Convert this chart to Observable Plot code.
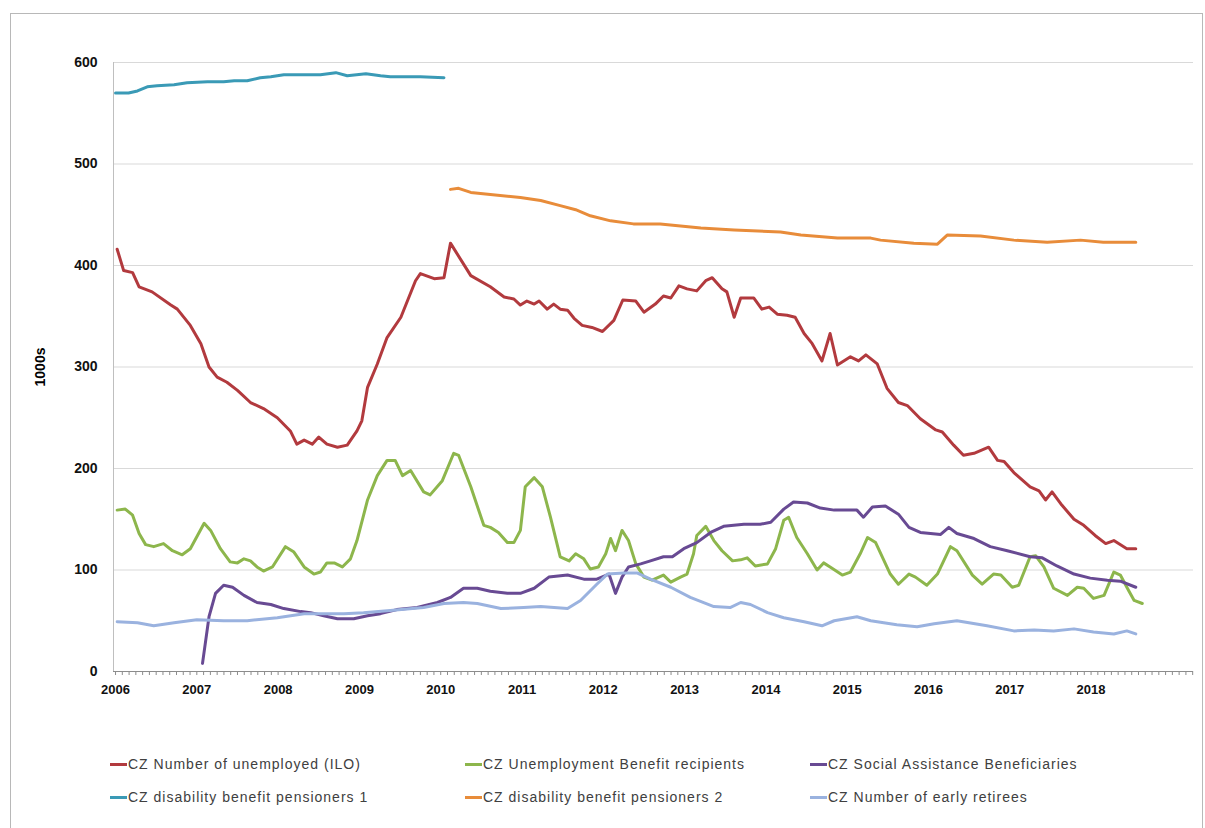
<!DOCTYPE html>
<html>
<head>
<meta charset="utf-8">
<script src="https://cdn.jsdelivr.net/npm/d3@7"></script>
<script src="https://cdn.jsdelivr.net/npm/@observablehq/plot@0.6"></script>
<style>
  html, body { margin: 0; padding: 0; background: #fff; }
  #wrap { position: relative; width: 1205px; height: 828px; overflow: hidden; }
  #frame { position: absolute; left: 10px; top: 13px; width: 1193px; height: 830px; border: 1px solid #b8b8b8; box-sizing: border-box; }
  #chart { position: absolute; left: 0; top: 0; }
  #ylabel { position: absolute; left: 40px; top: 367px; transform: translate(-50%, -50%) rotate(-90deg); font: bold 14px "Liberation Sans", Arial, sans-serif; color: #000; white-space: nowrap; }
  .leg { position: absolute; font: 14px "Liberation Sans", Arial, sans-serif; letter-spacing: 1px; color: #404040; white-space: nowrap; display: flex; align-items: center; }
  .leg span.sw { display: inline-block; width: 17px; height: 3px; margin-right: 1px; }
</style>
</head>
<body>
<div id="wrap">
  <div id="frame"></div>
  <div id="chart"></div>
  <div id="ylabel">1000s</div>
  <div id="legend"></div>
</div>
<script>
// ---- Data (x = decimal year, value in thousands) ----
const seriesNames = [
  "CZ Number of unemployed (ILO)",
  "CZ Unemployment Benefit recipients",
  "CZ Social Assistance Beneficiaries",
  "CZ disability benefit pensioners 1",
  "CZ disability benefit pensioners 2",
  "CZ Number of early retirees"
];
const seriesColors = ["#b23a3e", "#8db64c", "#684a93", "#3a9ab6", "#e88c3a", "#9ab2df"];

const unemployedILO = [
  [2006.02,416],[2006.10,395],[2006.21,393],[2006.29,379],[2006.45,374],[2006.68,361],[2006.76,357],[2006.92,341],
  [2007.05,323],[2007.15,300],[2007.25,290],[2007.37,285],[2007.50,277],[2007.66,265],[2007.82,259],[2007.99,250],
  [2008.15,237],[2008.23,224],[2008.32,228],[2008.42,224],[2008.50,231],[2008.60,224],[2008.73,221],[2008.85,223],
  [2008.97,237],[2009.03,247],[2009.10,280],[2009.22,303],[2009.34,329],[2009.51,349],[2009.69,385],[2009.75,392],
  [2009.92,387],[2010.04,388],[2010.12,422],[2010.37,390],[2010.61,379],[2010.78,369],[2010.90,367],[2010.98,361],
  [2011.06,365],[2011.15,362],[2011.21,365],[2011.31,357],[2011.39,362],[2011.47,357],[2011.56,356],[2011.64,348],
  [2011.74,341],[2011.86,339],[2011.99,335],[2012.13,346],[2012.24,366],[2012.40,365],[2012.50,354],[2012.64,362],
  [2012.74,370],[2012.83,368],[2012.93,380],[2013.03,377],[2013.15,375],[2013.26,385],[2013.34,388],[2013.46,377],
  [2013.52,374],[2013.61,349],[2013.69,368],[2013.85,368],[2013.95,357],[2014.04,359],[2014.14,352],[2014.26,351],
  [2014.36,349],[2014.47,333],[2014.57,323],[2014.69,306],[2014.79,333],[2014.88,302],[2015.04,310],[2015.14,306],
  [2015.23,312],[2015.37,303],[2015.49,279],[2015.63,265],[2015.74,262],[2015.90,249],[2016.09,238],[2016.17,236],
  [2016.31,223],[2016.43,213],[2016.56,215],[2016.74,221],[2016.85,208],[2016.93,207],[2017.05,196],[2017.25,182],
  [2017.36,178],[2017.44,169],[2017.52,177],[2017.64,164],[2017.79,150],[2017.91,144],[2018.05,134],[2018.18,126],
  [2018.28,129],[2018.44,121],[2018.55,121]
];

const benefitRecipients = [
  [2006.02,159],[2006.12,160],[2006.21,154],[2006.29,136],[2006.37,125],[2006.47,123],[2006.59,126],[2006.70,119],
  [2006.82,115],[2006.92,121],[2007.09,146],[2007.17,139],[2007.29,121],[2007.41,108],[2007.50,107],[2007.58,111],
  [2007.66,109],[2007.74,103],[2007.82,99],[2007.93,103],[2008.09,123],[2008.19,118],[2008.32,103],[2008.44,96],
  [2008.52,98],[2008.60,107],[2008.69,107],[2008.79,103],[2008.89,111],[2008.97,129],[2009.10,169],[2009.22,193],
  [2009.34,208],[2009.44,208],[2009.53,193],[2009.63,198],[2009.79,177],[2009.87,174],[2010.02,188],[2010.16,215],
  [2010.22,213],[2010.37,182],[2010.53,144],[2010.61,142],[2010.71,137],[2010.82,127],[2010.90,127],[2010.98,139],
  [2011.04,182],[2011.15,191],[2011.25,182],[2011.35,152],[2011.47,113],[2011.58,109],[2011.66,116],[2011.76,111],
  [2011.84,101],[2011.94,103],[2012.03,116],[2012.09,131],[2012.15,119],[2012.23,139],[2012.31,129],[2012.40,106],
  [2012.50,93],[2012.60,90],[2012.74,95],[2012.83,88],[2012.95,93],[2013.03,96],[2013.11,116],[2013.15,134],
  [2013.26,143],[2013.36,129],[2013.46,119],[2013.59,109],[2013.69,110],[2013.77,112],[2013.87,104],[2014.02,106],
  [2014.12,121],[2014.22,149],[2014.28,152],[2014.38,132],[2014.51,116],[2014.63,100],[2014.71,107],[2014.79,103],
  [2014.94,95],[2015.04,98],[2015.16,116],[2015.25,132],[2015.35,127],[2015.53,96],[2015.63,86],[2015.76,96],
  [2015.84,93],[2015.98,85],[2016.11,96],[2016.27,123],[2016.35,119],[2016.54,95],[2016.66,86],[2016.80,96],
  [2016.89,95],[2017.03,83],[2017.11,85],[2017.25,113],[2017.32,114],[2017.42,103],[2017.54,82],[2017.71,75],
  [2017.83,83],[2017.91,82],[2018.03,72],[2018.16,75],[2018.28,98],[2018.36,95],[2018.46,80],[2018.53,70],
  [2018.63,67]
];

const socialAssistance = [
  [2007.07,8],[2007.15,54],[2007.23,77],[2007.33,85],[2007.44,83],[2007.58,75],[2007.74,68],[2007.91,66],
  [2008.07,62],[2008.28,59],[2008.40,58],[2008.56,55],[2008.73,52],[2008.93,52],[2009.10,55],[2009.26,57],
  [2009.46,61],[2009.71,63],[2009.96,68],[2010.12,73],[2010.28,82],[2010.45,82],[2010.61,79],[2010.82,77],
  [2010.98,77],[2011.15,82],[2011.33,93],[2011.56,95],[2011.76,91],[2011.92,91],[2012.07,96],[2012.15,77],
  [2012.23,93],[2012.31,103],[2012.46,106],[2012.58,109],[2012.74,113],[2012.85,113],[2012.99,121],[2013.15,127],
  [2013.32,137],[2013.48,143],[2013.73,145],[2013.93,145],[2014.06,147],[2014.22,160],[2014.34,167],[2014.51,166],
  [2014.67,161],[2014.84,159],[2015.12,159],[2015.20,152],[2015.31,162],[2015.47,163],[2015.63,155],[2015.76,142],
  [2015.90,137],[2016.15,135],[2016.25,142],[2016.35,136],[2016.56,131],[2016.76,123],[2016.97,119],[2017.25,113],
  [2017.40,112],[2017.58,104],[2017.79,96],[2017.99,92],[2018.20,90],[2018.36,89],[2018.55,83]
];

const disability1 = [
  [2006.00,570],[2006.16,570],[2006.27,572],[2006.39,576],[2006.51,577],[2006.72,578],[2006.88,580],[2007.13,581],
  [2007.33,581],[2007.46,582],[2007.62,582],[2007.78,585],[2007.91,586],[2008.07,588],[2008.28,588],[2008.52,588],
  [2008.71,590],[2008.85,587],[2009.08,589],[2009.26,587],[2009.38,586],[2009.51,586],[2009.75,586],[2010.04,585]
];

const disability2 = [
  [2010.12,475],[2010.22,476],[2010.37,472],[2010.61,470],[2010.98,467],[2011.23,464],[2011.47,459],[2011.66,455],
  [2011.84,449],[2012.09,444],[2012.37,441],[2012.70,441],[2013.20,437],[2013.61,435],[2014.18,433],[2014.43,430],
  [2014.88,427],[2015.29,427],[2015.41,425],[2015.82,422],[2016.11,421],[2016.23,430],[2016.64,429],[2017.05,425],
  [2017.46,423],[2017.87,425],[2018.15,423],[2018.55,423]
];

const earlyRetirees = [
  [2006.02,49],[2006.27,48],[2006.47,45],[2006.72,48],[2007.00,51],[2007.33,50],[2007.62,50],[2007.99,53],
  [2008.32,57],[2008.56,57],[2008.81,57],[2009.05,58],[2009.38,60],[2009.79,63],[2010.04,67],[2010.28,68],
  [2010.45,67],[2010.74,62],[2011.02,63],[2011.23,64],[2011.56,62],[2011.72,70],[2011.92,86],[2012.05,96],
  [2012.25,97],[2012.42,97],[2012.58,91],[2012.83,83],[2013.07,73],[2013.36,64],[2013.56,63],[2013.69,68],
  [2013.81,66],[2014.02,58],[2014.22,53],[2014.47,49],[2014.69,45],[2014.84,50],[2015.12,54],[2015.29,50],
  [2015.61,46],[2015.86,44],[2016.07,47],[2016.35,50],[2016.72,45],[2017.05,40],[2017.30,41],[2017.54,40],
  [2017.79,42],[2018.03,39],[2018.28,37],[2018.44,40],[2018.55,37]
];

const yTicks = [0, 100, 200, 300, 400, 500, 600];
const yearTicks = [2006, 2007, 2008, 2009, 2010, 2011, 2012, 2013, 2014, 2015, 2016, 2017, 2018];

// ---- Build table ----
const allSeries = [unemployedILO, benefitRecipients, socialAssistance, disability1, disability2, earlyRetirees];
const rows = allSeries.flatMap((s, i) => s.map(([t, v]) => ({t, v, series: seriesNames[i]})));

const xDomain = [2005.975, 2019.26];
const monthTicks = d3.range(0, 160).map(i => 2006 + i / 12);

const chart = Plot.plot({
  width: 1205,
  height: 720,
  marginLeft: 113,
  marginRight: 12,
  marginTop: 62,
  marginBottom: 49,
  style: {fontFamily: "'Liberation Sans', Arial, sans-serif", background: "transparent", overflow: "visible"},
  x: {domain: xDomain, label: null},
  y: {domain: [0, 600], label: null},
  color: {domain: seriesNames, range: seriesColors},
  marks: [
    Plot.gridY(yTicks, {stroke: "#d9d9d9", strokeOpacity: 1, strokeWidth: 1}),
    Plot.ruleX([xDomain[0]], {stroke: "#bfbfbf", strokeWidth: 1}),
    Plot.axisX(monthTicks, {tickSize: 4, tickFormat: () => "", stroke: "#8c8c8c", strokeOpacity: 1, label: null}),
    Plot.axisX(yearTicks, {tickSize: 0, tickPadding: 13, tickFormat: d => String(d), fontSize: 13, fontWeight: "bold", fill: "#111", label: null}),
    Plot.axisY(yTicks, {tickSize: 0, tickPadding: 16, fontSize: 14, fontWeight: "bold", fill: "#111", label: null}),
    Plot.ruleY([0], {stroke: "#8c8c8c", strokeWidth: 1}),
    Plot.line(rows, {x: "t", y: "v", z: "series", stroke: "series", strokeWidth: 3, strokeLinejoin: "round", strokeLinecap: "round"})
  ]
});
document.getElementById("chart").appendChild(chart);

// ---- Legend ----
const legendPos = [[110, 764], [465, 764], [810, 764], [110, 797], [465, 797], [810, 797]];
const legend = document.getElementById("legend");
seriesNames.forEach((name, i) => {
  const d = document.createElement("div");
  d.className = "leg";
  d.style.left = legendPos[i][0] + "px";
  d.style.top = (legendPos[i][1] - 9) + "px";
  d.style.height = "18px";
  const sw = document.createElement("span");
  sw.className = "sw";
  sw.style.background = seriesColors[i];
  d.appendChild(sw);
  d.appendChild(document.createTextNode(name));
  legend.appendChild(d);
});
</script>
</body>
</html>
